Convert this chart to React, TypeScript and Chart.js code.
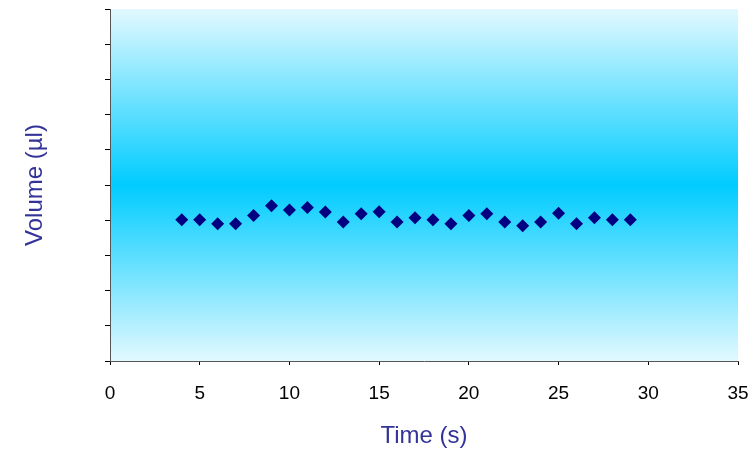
import React, { useEffect, useRef } from "react";
import { Chart, registerables } from "chart.js";

Chart.register(...registerables);

const times = [4, 5, 6, 7, 8, 9, 10, 11, 12, 13, 14, 15, 16, 17, 18, 19, 20, 21, 22, 23, 24, 25, 26, 27, 28, 29];
const volumes = [4.01, 4.01, 3.9, 3.9, 4.13, 4.41, 4.29, 4.36, 4.23, 3.95, 4.18, 4.24, 3.95, 4.07, 4.01, 3.9, 4.13, 4.18, 3.95, 3.84, 3.95, 4.2, 3.9, 4.07, 4.01, 4.01];
const xTicks = [0, 5, 10, 15, 20, 25, 30, 35];
const yMin = 0;
const yMax = 10;
const xTitle = "Time (s)";
const yTitle = "Volume (µl)";

const FONT = "'Liberation Sans', Arial, sans-serif";

const bgPlugin = {
  id: "bgGradient",
  beforeDraw(chart: any) {
    const { ctx, chartArea } = chart;
    if (!chartArea) return;
    const { left, top, right, bottom } = chartArea;
    const g = ctx.createLinearGradient(0, top, 0, bottom);
    g.addColorStop(0, "#e2f9ff");
    g.addColorStop(0.5, "#00ccff");
    g.addColorStop(1, "#e2f9ff");
    ctx.save();
    ctx.fillStyle = g;
    ctx.fillRect(left, top, right - left, bottom - top);
    ctx.restore();
  },
};

export default function App() {
  const ref = useRef<HTMLCanvasElement>(null);
  useEffect(() => {
    if (!ref.current) return;
    const chart = new Chart(ref.current, {
      type: "scatter",
      data: {
        datasets: [
          {
            data: times.map((t, i) => ({ x: t, y: volumes[i] })),
            pointStyle: "rectRot",
            pointRadius: 6.5,
            backgroundColor: "#000080",
            borderColor: "#000080",
            borderWidth: 0,
          },
        ],
      },
      options: {
        responsive: false,
        animation: false,
        layout: { padding: { top: 9, right: 0, left: 0, bottom: 0 } },
        plugins: { legend: { display: false }, tooltip: { enabled: false } },
        scales: {
          x: {
            type: "linear",
            min: 0,
            max: 35,
            afterBuildTicks: (scale: any) => {
              scale.ticks = xTicks.map((v) => ({ value: v }));
            },
            afterFit: (scale: any) => {
              scale.height = 92;
              scale.paddingRight = 15;
              scale.paddingLeft = 0;
            },
            ticks: { color: "#000", font: { family: FONT, size: 19 }, padding: 17, maxRotation: 0 },
            grid: { drawOnChartArea: false, drawTicks: true, tickLength: 4, color: "#000" },
            border: { display: true, color: "#555", width: 1 },
            title: {
              display: true,
              text: xTitle,
              color: "#333399",
              font: { family: FONT, size: 24 },
              padding: { top: 0, bottom: 2 },
            },
          },
          y: {
            type: "linear",
            min: yMin,
            max: yMax,
            ticks: { display: false, stepSize: 1 },
            afterFit: (scale: any) => {
              scale.width = 110;
            },
            grid: { drawOnChartArea: false, drawTicks: true, tickLength: 5, color: "#000" },
            border: { display: true, color: "#555", width: 1 },
            title: {
              display: true,
              text: yTitle,
              color: "#333399",
              font: { family: FONT, size: 24 },
              padding: { top: 21, bottom: 0 },
            },
          },
        },
      },
      plugins: [bgPlugin],
    });
    return () => chart.destroy();
  }, []);
  return (
    <div style={{ position: "fixed", left: 0, top: 0, width: 753, height: 453, background: "#fff" }}>
      <canvas ref={ref} width={753} height={453} />
    </div>
  );
}
